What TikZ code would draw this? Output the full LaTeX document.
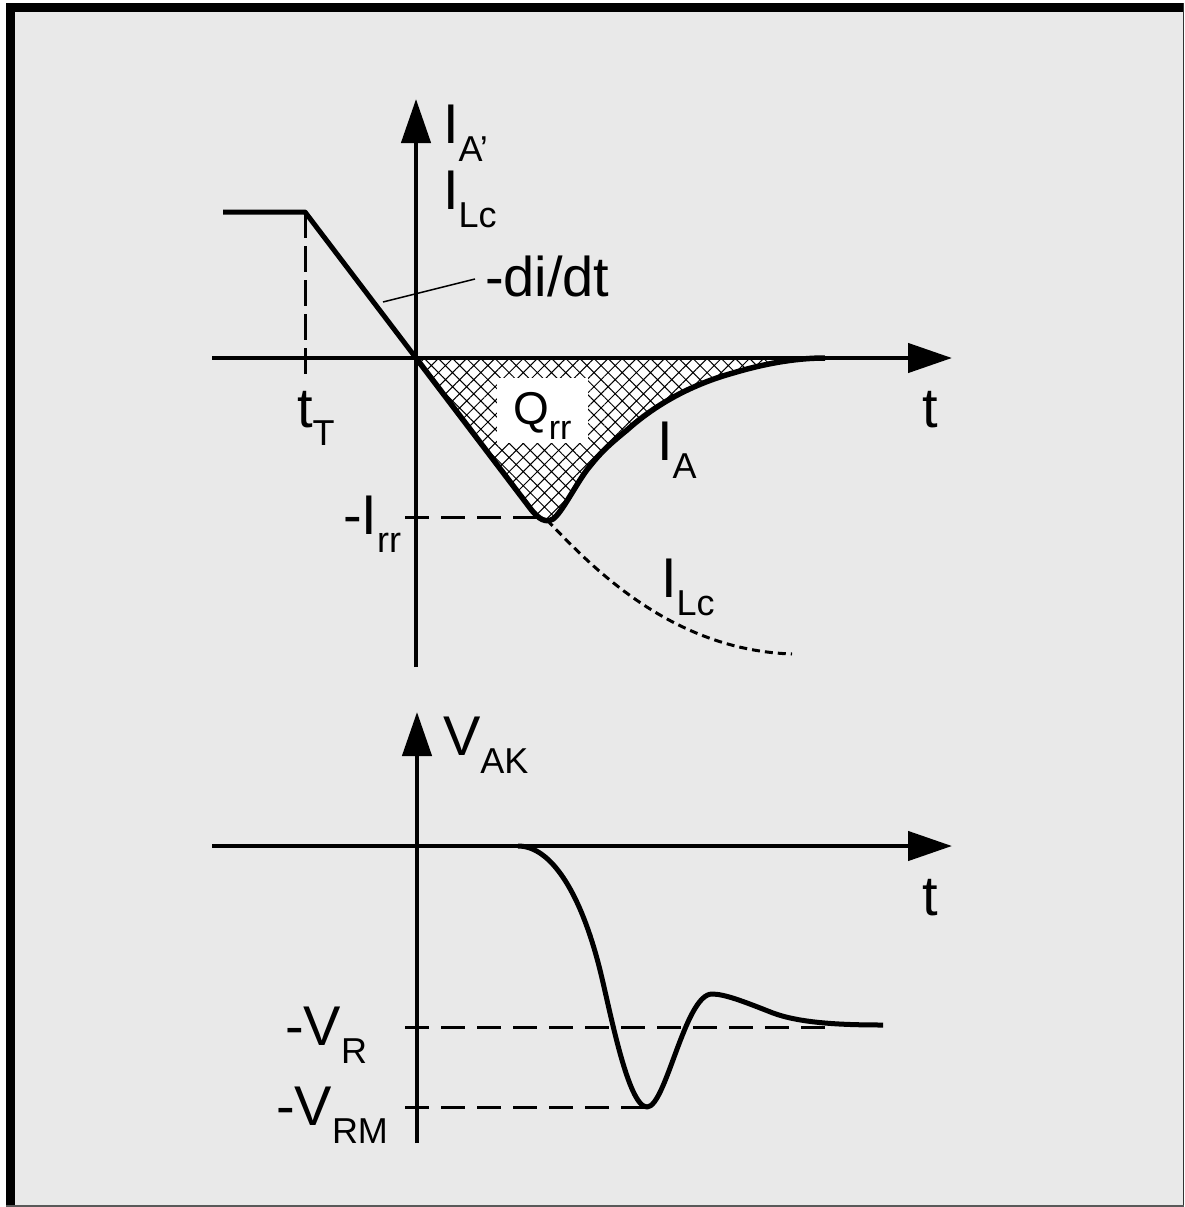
\documentclass[tikz,border=0pt]{standalone}
\usepackage{fontspec}
\setmainfont{Liberation Sans}
\usetikzlibrary{arrows.meta,patterns.meta}
\definecolor{bg}{RGB}{233,233,233}
\newcommand\mainsz{\fontsize{56}{60}\selectfont}
\newcommand\subsz{\fontsize{36}{40}\selectfont}
\newcommand\lowsub[1]{\raisebox{-18pt}{\subsz #1}}
\begin{document}
\begin{tikzpicture}[x=1pt,y=-1pt,line join=round,
  axis/.style={line width=4.5pt,-{Triangle[length=44pt,width=29pt]}},
  wave/.style={line width=5pt},
  thickwave/.style={line width=5.5pt},
  dline/.style={line width=3pt,dash pattern=on 24pt off 12pt},
  vdline/.style={line width=3pt,dash pattern=on 26pt off 8pt},
  lcline/.style={line width=3pt,dash pattern=on 8pt off 5pt},
  lab/.style={inner sep=0pt,outer sep=0pt,anchor=base west,font=\mainsz}]
% frame
\useasboundingbox (0,0) rectangle (1184,1207);
\fill[white] (0,0) rectangle (1184,1207);
\fill[bg] (6,3) rectangle (1184,1207);
\fill[black] (6,3) rectangle (15,1207);
\fill[black] (6,3) rectangle (1184,12);
\fill[black!80] (1182.5,3) rectangle (1184,1207);
\fill[black!65] (6,1204.5) rectangle (1184,1207);
% coordinates
\coordinate (O1) at (416,358);
\coordinate (X1s) at (212,358);
\coordinate (X1e) at (952,358);
\coordinate (Y1s) at (416,667);
\coordinate (Y1e) at (416,99);
\coordinate (X2s) at (212,846);
\coordinate (X2e) at (952,846);
\coordinate (Y2s) at (417,1143);
\coordinate (Y2e) at (417,712);
\coordinate (P0) at (223,212);
\coordinate (P1) at (305,212);
\coordinate (TT) at (305,375);
\coordinate (B1) at (530,508);
\coordinate (Bm) at (547,520);
\coordinate (Irr) at (405,517);
\coordinate (IrrE) at (546,517);
\coordinate (LcE) at (792,654);
\coordinate (VR) at (405,1027);
\coordinate (VRe) at (827,1027);
\coordinate (VRM) at (405,1107);
\coordinate (VRMe) at (645,1107);
\coordinate (L1) at (383,302);
\coordinate (L2) at (475,279);
\coordinate (V0) at (518,846);
\coordinate (Vmin) at (647,1107);
\coordinate (Vpk) at (712,994);
\coordinate (Vend) at (883,1025);
% hatched Q_rr area
\fill[white] (O1) -- (B1) .. controls (539,520) and (546,523) .. (553,519)
  .. controls (562,513) and (578,480) .. (590,466)
  .. controls (602,451) and (610,444) .. (627,430)
  .. controls (655,405) and (690,385) .. (733,373)
  .. controls (770,362) and (800,358) .. (825,358) -- cycle;
\fill[pattern={Hatch[angle=45,distance=10pt,line width=1pt]}] (O1) -- (B1) .. controls (539,520) and (546,523) .. (553,519)
  .. controls (562,513) and (578,480) .. (590,466)
  .. controls (602,451) and (610,444) .. (627,430)
  .. controls (655,405) and (690,385) .. (733,373)
  .. controls (770,362) and (800,358) .. (825,358) -- cycle;
\node[fill=white,inner sep=0pt,minimum width=91pt,minimum height=65pt] (qbox) at (542.5,410.5) {};
\node[lab,font=\fontsize{46}{48}\selectfont] (lQ) at (513,424) {Q\raisebox{-15pt}{\fontsize{34}{36}\selectfont rr}};
% I_A curve
\draw[thickwave] (O1) -- (B1) .. controls (539,520) and (546,523) .. (553,519)
  .. controls (562,513) and (578,480) .. (590,466)
  .. controls (602,451) and (610,444) .. (627,430)
  .. controls (655,405) and (690,385) .. (733,373)
  .. controls (770,362) and (800,358) .. (825,358);
% I_Lc dashed continuation
\draw[lcline] (Bm) .. controls (590,565) and (670,650) .. (LcE);
% plateau and ramp
\draw[wave] (P0) -- (P1) -- (O1);
\draw[line width=1.5pt] (L1) -- (L2);
% top axes
\draw[axis] (X1s) -- (X1e);
\draw[axis] (Y1s) -- (Y1e);
% dashed helpers top
\draw[vdline] (P1) -- (TT);
\draw[dline] (Irr) -- (IrrE);
% bottom axes
\draw[axis] (X2s) -- (X2e);
\draw[axis] (Y2s) -- (Y2e);
\draw[dline] (VR) -- (VRe);
\draw[dline] (VRM) -- (VRMe);
% V_AK curve
\draw[wave] (V0) .. controls (550,846) and (580,890) .. (600,970)
  .. controls (610,1010) and (628,1107) .. (Vmin)
  .. controls (666,1107) and (685,994) .. (Vpk)
  .. controls (725,994) and (745,1002) .. (773,1013)
  .. controls (800,1023) and (840,1025) .. (Vend);
% labels
\node[lab] (lIA) at (443,143) {I\lowsub{A’}};
\node[lab] (lILc) at (443,209) {I\lowsub{Lc}};
\node[lab] (ldidt) at (485,296) {-di/dt};
\node[lab] (lt1) at (922,427) {t};
\node[lab] (ltT) at (297,427) {t\lowsub{T}};
\node[lab] (lIA2) at (657,460) {I\lowsub{A}};
\node[lab] (lIrr) at (343,534) {-I\lowsub{rr}};
\node[lab] (lILc2) at (661,597) {I\lowsub{Lc}};
\node[lab] (lVAK) at (443,755) {V\lowsub{AK}};
\node[lab] (lt2) at (922,915) {t};
\node[lab] (lVR) at (285,1045) {-V\lowsub{R}};
\node[lab] (lVRM) at (276,1125) {-V\lowsub{RM}};
\end{tikzpicture}
\end{document}
